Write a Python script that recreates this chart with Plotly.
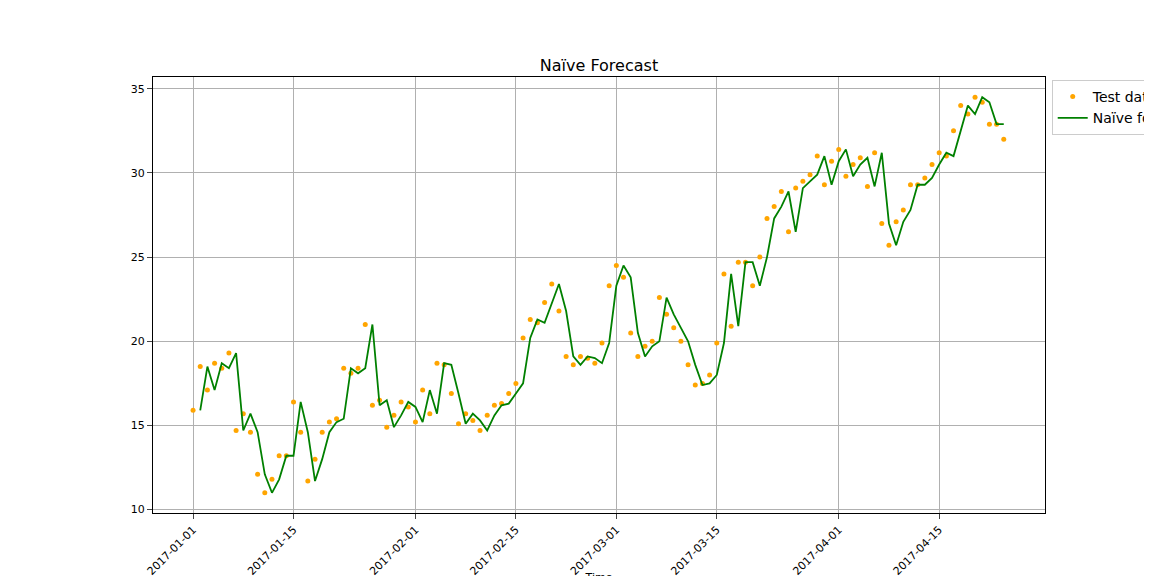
import pandas as pd
import plotly.graph_objects as go

test_values = [15.9,18.5,17.1,18.7,18.4,19.3,14.7,15.7,14.6,12.1,11.0,11.8,13.2,13.2,16.4,14.6,11.7,13.0,14.6,15.2,
15.4,18.4,18.1,18.4,21.0,16.2,16.5,14.9,15.6,16.4,16.1,15.2,17.1,15.7,18.7,18.6,16.9,15.1,15.7,15.3,
14.7,15.6,16.2,16.3,16.9,17.5,20.2,21.3,21.1,22.3,23.4,21.8,19.1,18.6,19.1,19.0,18.7,19.9,23.3,24.5,
23.8,20.5,19.1,19.7,20.0,22.6,21.6,20.8,20.0,18.6,17.4,17.5,18.0,19.9,24.0,20.9,24.7,24.7,23.3,25.0,
27.3,28.0,28.9,26.5,29.1,29.5,29.9,31.0,29.3,30.7,31.4,29.8,30.5,30.9,29.2,31.2,27.0,25.7,27.1,27.8,
29.3,29.3,29.7,30.5,31.2,31.0,32.5,34.0,33.5,34.5,34.2,32.9,32.9,32.0]
test_dates = pd.date_range("2017-01-01", periods=len(test_values), freq="D")

# naive forecast: previous day's observed value
forecast_dates = test_dates[1:]
forecast_values = test_values[:-1]

tick_vals = ["2017-01-01","2017-01-15","2017-02-01","2017-02-15","2017-03-01","2017-03-15","2017-04-01","2017-04-15"]

fig = go.Figure()
fig.add_trace(go.Scatter(x=test_dates, y=test_values, mode="markers", name="Test data",
                         marker=dict(color="orange", size=5)))
fig.add_trace(go.Scatter(x=forecast_dates, y=forecast_values, mode="lines", name="Naïve forecast",
                         line=dict(color="green", width=1.8)))

fig.update_layout(
    width=1152, height=576, plot_bgcolor="white", paper_bgcolor="white",
    font=dict(family="DejaVu Sans", size=11, color="black"),
    title=dict(text="Naïve Forecast", x=0.5, xanchor="center", xref="paper",
               y=0.9, yanchor="middle", font=dict(size=16)),
    margin=dict(l=145, r=115, t=69, b=71, autoexpand=False),
    legend=dict(xref="container", yref="container", x=0.906, y=0.875, xanchor="left", yanchor="top",
                font=dict(size=14), bordercolor="#cccccc", borderwidth=1, bgcolor="white"),
    showlegend=True,
)
fig.update_xaxes(range=["2016-12-26 10:00", "2017-04-29 18:00"], tickvals=tick_vals, ticktext=tick_vals,
                 tickangle=-45, showgrid=True, gridcolor="#b0b0b0", showline=True, linecolor="black", mirror=True,
                 ticks="outside", title=dict(text="Time", font=dict(size=11)), zeroline=False, automargin=False)
fig.update_yaxes(range=[9.8, 35.7], tickvals=[10,15,20,25,30,35], showgrid=True, gridcolor="#b0b0b0",
                 showline=True, linecolor="black", mirror=True, ticks="outside", zeroline=False, automargin=False)
fig.write_html("out.html")
